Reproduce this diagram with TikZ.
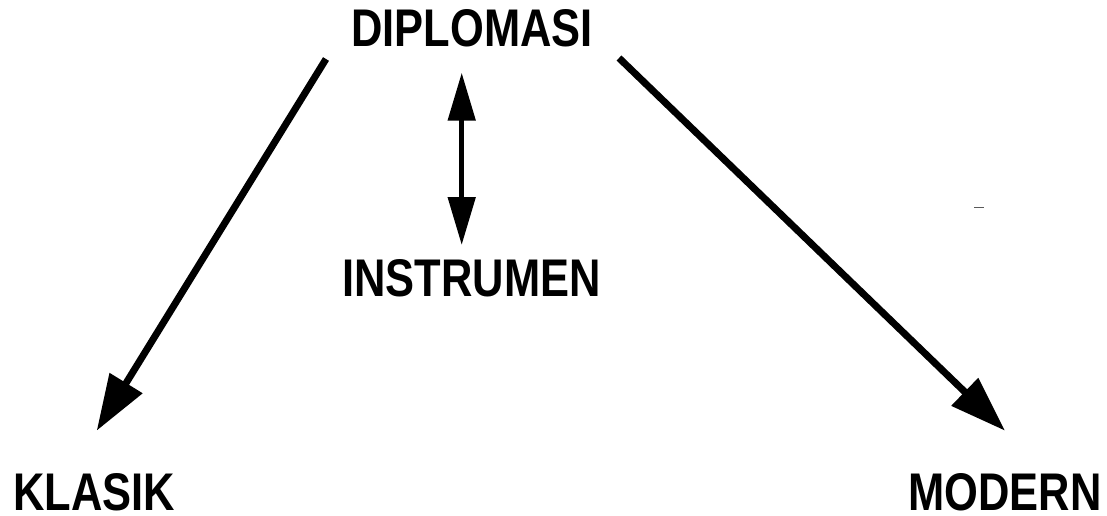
\documentclass[tikz,border=0pt]{standalone}
\usepackage{fontspec}
\setmainfont{Liberation Sans}[FakeStretch=0.82]
\usetikzlibrary{arrows.meta}
\begin{document}
\begin{tikzpicture}[x=1pt,y=-1pt,
  lbl/.style={anchor=base,inner sep=0pt,font=\fontsize{53}{60}\selectfont\bfseries},
  bigarrow/.style={line width=7pt,-{Triangle[length=56pt,width=37pt]}},
  dblarrow/.style={line width=5pt,{Triangle[length=48pt,width=27pt]}-{Triangle[length=48pt,width=27pt]}}]
\useasboundingbox (0,0) rectangle (1107,516);
\node[lbl] (dip) at (472,46.7) {DIPLOMASI};
\node[lbl] (ins) at (471.7,296.7) {INSTRUMEN};
\node[lbl] (kla) at (94,510) {KLASIK};
\node[lbl] (mod) at (1005,510) {MODERN};
\coordinate (ls) at (326,59);
\coordinate (lt) at (96.7,430.7);
\coordinate (rs) at (619,58);
\coordinate (rt) at (1005,430.7);
\coordinate (ut) at (461.7,72.7);
\coordinate (dt) at (461.7,245);
\draw[bigarrow] (ls) -- (lt);
\draw[bigarrow] (rs) -- (rt);
\draw[dblarrow] (ut) -- (dt);
\coordinate (m1) at (974,207.7);
\coordinate (m2) at (984,207.7);
\draw[gray!70!black,line width=1.5pt] (m1) -- (m2);
\end{tikzpicture}
\end{document}
